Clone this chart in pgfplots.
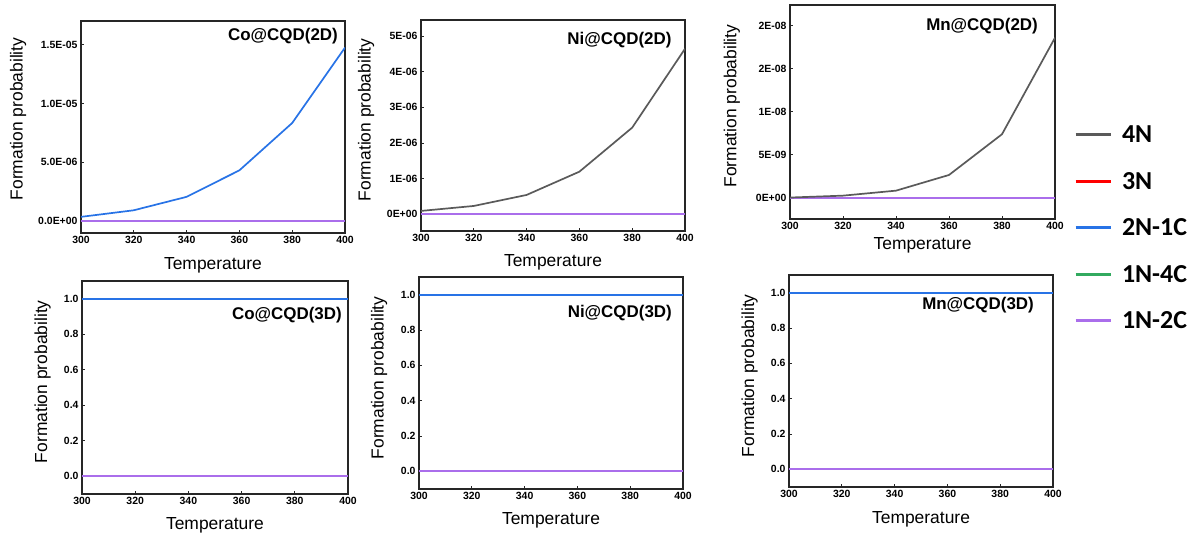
\documentclass[border=0pt]{standalone}
\usepackage{fontspec}
\setmainfont{Liberation Sans}
\newfontfamily\legfont{Carlito}
\usepackage{pgfplots}
\pgfplotsset{compat=1.18}
\definecolor{cFourN}{RGB}{90,90,90}
\definecolor{cThreeN}{RGB}{255,0,0}
\definecolor{cTwoNOneC}{RGB}{40,115,230}
\definecolor{cOneNFourC}{RGB}{50,170,95}
\definecolor{cOneNTwoC}{RGB}{170,110,235}
\tikzset{ttl/.style={anchor=east, inner sep=0pt, font=\fontsize{17}{20}\selectfont\bfseries}}
\pgfplotsset{
  panel/.style={
    scale only axis, anchor=south west,
    xmin=300, xmax=400, xtick={300,320,340,360,380,400},
    tick align=inside, xtick pos=bottom, ytick pos=left,
    axis line style={line width=1.1bp, black!85},
    major tick length=3bp,
    tick style={black!85, line width=0.8bp},
    ticklabel style={font=\fontsize{10.5}{12}\selectfont\bfseries},
    /pgf/number format/assume math mode=true,
    scaled y ticks=false,
    xlabel=Temperature, ylabel=Formation probability,
    label style={font=\fontsize{17.5}{20}\selectfont},
    every axis plot/.append style={line width=1.7bp},
    clip=true,
  },
  threeD/.style={ymin=-0.1, ymax=1.1, ytick={0,0.2,0.4,0.6,0.8,1.0},
    yticklabels={0.0,0.2,0.4,0.6,0.8,1.0}},
}
\begin{document}
\begin{tikzpicture}
\useasboundingbox (0,0) rectangle (1198bp,541bp);

% ---- Co@CQD(2D)
\begin{axis}[panel, at={(81bp,308bp)}, width=264bp, height=212bp,
  ymin=-1.0e-6, ymax=1.7e-5,
  ytick={0,5e-6,1e-5,1.5e-5}, yticklabels={0.0E+00,5.0E-06,1.0E-05,1.5E-05},
  xlabel style={at={(axis description cs:0.5,-0.151)}, anchor=center},
  ylabel style={at={(axis description cs:-0.2386,0.538)}, anchor=center}]
\addplot[cOneNTwoC] coordinates {(300,0) (320,0) (340,0) (360,0) (380,0) (400,0)};
\addplot[cTwoNOneC] coordinates {(300,0.37e-6) (320,0.93e-6) (340,2.07e-6) (360,4.32e-6) (380,8.34e-6) (400,14.74e-6)};
\node[ttl] at (axis description cs:0.9735,0.927) {Co@CQD(2D)};
\end{axis}

% ---- Ni@CQD(2D)
\begin{axis}[panel, at={(421bp,310bp)}, width=264bp, height=211bp,
  ymin=-0.48e-6, ymax=5.46e-6,
  ytick={0,1e-6,2e-6,3e-6,4e-6,5e-6}, yticklabels={0E+00,1E-06,2E-06,3E-06,4E-06,5E-06},
  xlabel style={at={(axis description cs:0.5,-0.149)}, anchor=center},
  ylabel style={at={(axis description cs:-0.2083,0.527)}, anchor=center}]
\addplot[cOneNTwoC] coordinates {(300,0) (320,0) (340,0) (360,0) (380,0) (400,0)};
\addplot[cFourN] coordinates {(300,0.085e-6) (320,0.225e-6) (340,0.535e-6) (360,1.19e-6) (380,2.43e-6) (400,4.65e-6)};
\node[ttl] at (axis description cs:0.9496,0.905) {Ni@CQD(2D)};
\end{axis}

% ---- Mn@CQD(2D)
\begin{axis}[panel, at={(790bp,322bp)}, width=265bp, height=214bp,
  ymin=-2.44e-9, ymax=22.4e-9,
  ytick={0,5e-9,1e-8,1.5e-8,2e-8}, yticklabels={0E+00,5E-09,1E-08,2E-08,2E-08},
  xlabel style={at={(axis description cs:0.5,-0.121)}, anchor=center},
  ylabel style={at={(axis description cs:-0.219,0.528)}, anchor=center}]
\addplot[cOneNTwoC] coordinates {(300,0) (320,0) (340,0) (360,0) (380,0) (400,0)};
\addplot[cFourN] coordinates {(300,0.05e-9) (320,0.27e-9) (340,0.85e-9) (360,2.67e-9) (380,7.4e-9) (400,18.6e-9)};
\node[ttl] at (axis description cs:0.9358,0.899) {Mn@CQD(2D)};
\end{axis}

% ---- Co@CQD(3D)
\begin{axis}[panel, threeD, at={(82bp,47bp)}, width=266bp, height=213bp,
  xlabel style={at={(axis description cs:0.5,-0.148)}, anchor=center},
  ylabel style={at={(axis description cs:-0.1485,0.527)}, anchor=center}]
\addplot[cOneNTwoC] coordinates {(300,0) (320,0) (340,0) (360,0) (380,0) (400,0)};
\addplot[cTwoNOneC] coordinates {(300,1) (320,1) (340,1) (360,1) (380,1) (400,1)};
\node[ttl] at (axis description cs:0.9774,0.840) {Co@CQD(3D)};
\end{axis}

% ---- Ni@CQD(3D)
\begin{axis}[panel, threeD, at={(419bp,52bp)}, width=264bp, height=212bp,
  xlabel style={at={(axis description cs:0.5,-0.149)}, anchor=center},
  ylabel style={at={(axis description cs:-0.1515,0.524)}, anchor=center}]
\addplot[cOneNTwoC] coordinates {(300,0) (320,0) (340,0) (360,0) (380,0) (400,0)};
\addplot[cTwoNOneC] coordinates {(300,1) (320,1) (340,1) (360,1) (380,1) (400,1)};
\node[ttl] at (axis description cs:0.9583,0.828) {Ni@CQD(3D)};
\end{axis}

% ---- Mn@CQD(3D)
\begin{axis}[panel, threeD, at={(789bp,54bp)}, width=264bp, height=212bp,
  xlabel style={at={(axis description cs:0.5,-0.153)}, anchor=center},
  ylabel style={at={(axis description cs:-0.1496,0.525)}, anchor=center}]
\addplot[cOneNTwoC] coordinates {(300,0) (320,0) (340,0) (360,0) (380,0) (400,0)};
\addplot[cTwoNOneC] coordinates {(300,1) (320,1) (340,1) (360,1) (380,1) (400,1)};
\node[ttl] at (axis description cs:0.9280,0.858) {Mn@CQD(3D)};
\end{axis}

% ---- Legend
\begin{axis}[hide axis, scale only axis, anchor=north west, at={(1074bp,414bp)},
  width=100bp, height=200bp, xmin=0, xmax=1, ymin=0, ymax=1,
  legend style={at={(axis description cs:0,1)}, anchor=north west,
    draw=none, fill=none, inner sep=0pt, outer sep=0pt,
    row sep=30.5bp, column sep=10bp,
    nodes={inner sep=0pt, text height=16bp, text depth=0bp},
    font=\legfont\bfseries\fontsize{26}{28}\selectfont},
  legend cell align=left,
  legend image code/.code={\draw[line width=3bp] (0bp,0bp) -- (35bp,0bp);}]
\addlegendimage{cFourN}
\addlegendentry{4N}
\addlegendimage{cThreeN}
\addlegendentry{3N}
\addlegendimage{cTwoNOneC}
\addlegendentry{2N-1C}
\addlegendimage{cOneNFourC}
\addlegendentry{1N-4C}
\addlegendimage{cOneNTwoC}
\addlegendentry{1N-2C}
\end{axis}
\end{tikzpicture}
\end{document}
